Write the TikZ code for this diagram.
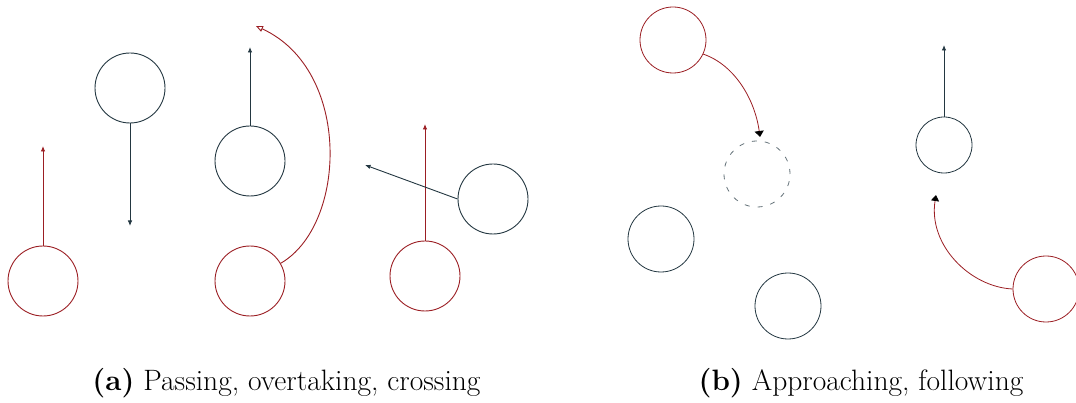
\documentclass[tikz,border=0pt]{standalone}
\usetikzlibrary{arrows.meta}
\definecolor{agred}{RGB}{155,30,35}
\definecolor{agdark}{RGB}{35,55,65}
\begin{document}
\begin{tikzpicture}[x=1pt,y=-1pt,
  agent/.style={circle,draw,minimum size=70pt,inner sep=0pt,line width=0.9pt},
  smallagent/.style={circle,draw,minimum size=66pt,inner sep=0pt,line width=0.8pt},
  vel/.style={line width=0.9pt,-{Latex[length=5.5pt,width=4.5pt]}},
  captext/.style={font=\fontsize{29.5}{34}\selectfont,anchor=base}]
\useasboundingbox (0,0) rectangle (1076,403);
% (a)
\node[agent,agred] (a1) at (43,281) {};
\coordinate (a1t) at (43,146);
\draw[vel,agred] (a1.north) -- (a1t);
\node[agent,agdark] (a2) at (130,88) {};
\coordinate (a2t) at (130,226);
\draw[vel,agdark] (a2.south) -- (a2t);
\node[agent,agdark] (a3) at (250,161) {};
\coordinate (a3t) at (250,47);
\draw[vel,agdark] (a3.north) -- (a3t);
\node[agent,agred] (a4) at (250,281) {};
\coordinate (a4t) at (256,26);
\draw[agred,line width=0.9pt,-{Triangle[open,length=7pt,width=6pt]}] (a4.30) .. controls (347,225) and (352,70) .. (a4t);
\node[agent,agred] (a5) at (425,276) {};
\coordinate (a5t) at (425,124);
\draw[vel,agred] (a5.north) -- (a5t);
\node[agent,agdark] (a6) at (493,199) {};
\coordinate (a6t) at (365,165);
\draw[vel,agdark] (a6.west) -- (a6t);
% (b)
\node[smallagent,agred] (b1) at (673,40) {};
\coordinate (b1t) at (760,137);
\draw[agred,line width=0.8pt,-{Triangle[length=6pt,width=9pt,color=black,fill=black]}] (b1.-25) .. controls (735,65) and (755,100) .. (b1t);
\node[smallagent,draw=agdark!70,dash pattern=on 5pt off 8pt] (b2) at (757,174) {};
\node[smallagent,agdark] (b3) at (661,239) {};
\node[smallagent,agdark] (b4) at (788,306) {};
\node[circle,draw,agdark,minimum size=56pt,inner sep=0pt,line width=0.8pt] (b5) at (944,145) {};
\coordinate (b5t) at (944,45);
\draw[vel,agdark] (b5.north) -- (b5t);
\node[smallagent,agred] (b6) at (1046,289) {};
\coordinate (b6t) at (936,195);
\draw[agred,line width=0.8pt,-{Triangle[length=6pt,width=8pt,color=black,fill=black]}] (b6.west) .. controls (970,287) and (928,245) .. (b6t);
% captions
\node[captext] (capa) at (286.5,390) {\textbf{(a)} Passing, overtaking, crossing};
\node[captext] (capb) at (861,390) {\textbf{(b)} Approaching, following};
\end{tikzpicture}
\end{document}
